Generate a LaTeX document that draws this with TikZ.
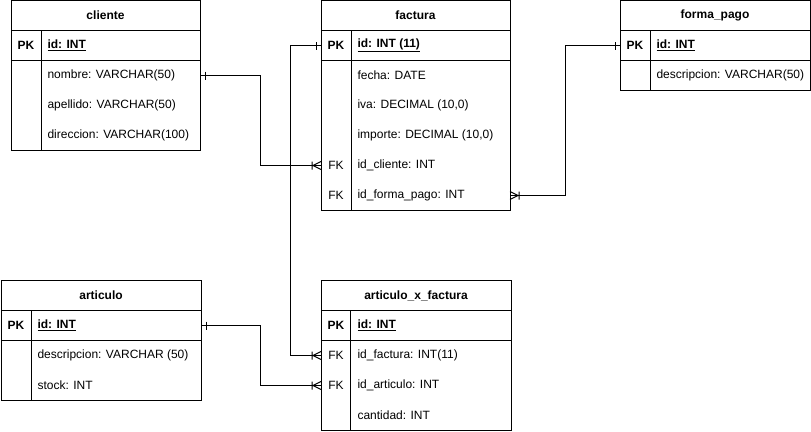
\documentclass[tikz,border=0pt]{standalone}
\usepackage{fontspec}
\setmainfont{Liberation Sans}
\usetikzlibrary{positioning}
\usetikzlibrary{arrows.meta}
% crow's foot ends (one / one-or-many)
\pgfdeclarearrow{
    name = ERone,
    setup code = {
        \pgfarrowssettipend{0pt}
        \pgfarrowssetlineend{0pt}
        \pgfarrowssetbackend{-6pt}
        \pgfarrowsupperhullpoint{-6pt}{4pt}
        \pgfarrowsupperhullpoint{0pt}{4pt}
    },
    drawing code = {
        \pgfpathmoveto{\pgfpoint{-5pt}{-4pt}}
        \pgfpathlineto{\pgfpoint{-5pt}{4pt}}
        \pgfusepathqstroke
    }
}
\pgfdeclarearrow{
    name = ERmany,
    setup code = {
        \pgfarrowssettipend{0pt}
        \pgfarrowssetlineend{0pt}
        \pgfarrowssetbackend{-10pt}
        \pgfarrowsupperhullpoint{-10pt}{4pt}
        \pgfarrowsupperhullpoint{0pt}{4pt}
    },
    drawing code = {
        \pgfpathmoveto{\pgfpoint{-9pt}{-4pt}}
        \pgfpathlineto{\pgfpoint{-9pt}{4pt}}
        \pgfpathmoveto{\pgfpoint{0pt}{4pt}}
        \pgfpathlineto{\pgfpoint{-8pt}{0pt}}
        \pgfpathlineto{\pgfpoint{0pt}{-4pt}}
        \pgfusepathqstroke
    }
}
\tikzset{
    tabhead/.style = {draw, anchor=north west, minimum height=30pt, inner sep=0pt, outer sep=0pt, font=\fontsize{12}{14}\selectfont\bfseries},
    tabrow/.style = {minimum height=30pt, inner sep=0pt, outer sep=0pt},
    keyname/.style = {font=\fontsize{12}{14}\selectfont\bfseries},
    keyfk/.style = {font=\fontsize{12}{14}\selectfont},
    fieldname/.style = {anchor=west, inner sep=0pt, font=\fontsize{12}{14}\selectfont},
    fieldkey/.style = {fieldname, font=\fontsize{12}{14}\selectfont\bfseries},
    relline/.style = {ERone-ERmany, black}, % one to many
}

\begin{document}
\begin{tikzpicture}[
    x=1pt, y=-1pt,
    line width=1pt]
  \useasboundingbox (0,0) rectangle (811,431);
  % cliente
  \node[tabhead, minimum width=189pt] (cli) at (11,0.5) {cliente};
  \node[tabrow, minimum width=189pt, below=0pt of cli] (cli-pk) {};
  \node[tabrow, minimum width=189pt, below=0pt of cli-pk] (cli-1) {};
  \node[tabrow, minimum width=189pt, below=0pt of cli-1] (cli-2) {};
  \node[tabrow, minimum width=189pt, below=0pt of cli-2] (cli-3) {};
  \draw (cli-pk.north west) rectangle (cli-pk.south east);
  \draw (cli-1.north west) rectangle (cli-3.south east);
  \draw ([xshift=30pt]cli-pk.north west) -- ([xshift=30pt]cli-3.south west);
  \node[keyname] at ([xshift=15pt]cli-pk.west) {PK};
  \node[fieldkey] at ([xshift=36pt]cli-pk.west) {\underline{id: INT}};
  \node[fieldname] at ([xshift=36pt]cli-1.west) {nombre: VARCHAR(50)};
  \node[fieldname] at ([xshift=36pt]cli-2.west) {apellido: VARCHAR(50)};
  \node[fieldname] at ([xshift=36pt]cli-3.west) {direccion: VARCHAR(100)};
  % factura
  \node[tabhead, minimum width=189pt] (fac) at (321,0.5) {factura};
  \node[tabrow, minimum width=189pt, below=0pt of fac] (fac-pk) {};
  \node[tabrow, minimum width=189pt, below=0pt of fac-pk] (fac-1) {};
  \node[tabrow, minimum width=189pt, below=0pt of fac-1] (fac-2) {};
  \node[tabrow, minimum width=189pt, below=0pt of fac-2] (fac-3) {};
  \node[tabrow, minimum width=189pt, below=0pt of fac-3] (fac-4) {};
  \node[tabrow, minimum width=189pt, below=0pt of fac-4] (fac-5) {};
  \draw (fac-pk.north west) rectangle (fac-pk.south east);
  \draw (fac-1.north west) rectangle (fac-5.south east);
  \draw ([xshift=30pt]fac-pk.north west) -- ([xshift=30pt]fac-5.south west);
  \node[keyname] at ([xshift=15pt]fac-pk.west) {PK};
  \node[keyfk] at ([xshift=15pt]fac-4.west) {FK};
  \node[keyfk] at ([xshift=15pt]fac-5.west) {FK};
  \node[fieldkey] at ([xshift=36pt]fac-pk.west) {\underline{id: INT (11)}};
  \node[fieldname] at ([xshift=36pt]fac-1.west) {fecha: DATE};
  \node[fieldname] at ([xshift=36pt]fac-2.west) {iva: DECIMAL (10,0)};
  \node[fieldname] at ([xshift=36pt]fac-3.west) {importe: DECIMAL (10,0)};
  \node[fieldname] at ([xshift=36pt]fac-4.west) {id\_cliente: INT};
  \node[fieldname] at ([xshift=36pt]fac-5.west) {id\_forma\_pago: INT};
  % forma_pago
  \node[tabhead, minimum width=190pt] (fp) at (620,0.5) {forma\_pago};
  \node[tabrow, minimum width=190pt, below=0pt of fp] (fp-pk) {};
  \node[tabrow, minimum width=190pt, below=0pt of fp-pk] (fp-1) {};
  \draw (fp-pk.north west) rectangle (fp-pk.south east);
  \draw (fp-1.north west) rectangle (fp-1.south east);
  \draw ([xshift=30pt]fp-pk.north west) -- ([xshift=30pt]fp-1.south west);
  \node[keyname] at ([xshift=15pt]fp-pk.west) {PK};
  \node[fieldkey] at ([xshift=36pt]fp-pk.west) {\underline{id: INT}};
  \node[fieldname] at ([xshift=36pt]fp-1.west) {descripcion: VARCHAR(50)};
  % articulo
  \node[tabhead, minimum width=200pt] (art) at (1,280.5) {articulo};
  \node[tabrow, minimum width=200pt, below=0pt of art] (art-pk) {};
  \node[tabrow, minimum width=200pt, below=0pt of art-pk] (art-1) {};
  \node[tabrow, minimum width=200pt, below=0pt of art-1] (art-2) {};
  \draw (art-pk.north west) rectangle (art-pk.south east);
  \draw (art-1.north west) rectangle (art-2.south east);
  \draw ([xshift=30pt]art-pk.north west) -- ([xshift=30pt]art-2.south west);
  \node[keyname] at ([xshift=15pt]art-pk.west) {PK};
  \node[fieldkey] at ([xshift=36pt]art-pk.west) {\underline{id: INT}};
  \node[fieldname] at ([xshift=36pt]art-1.west) {descripcion: VARCHAR (50)};
  \node[fieldname] at ([xshift=36pt]art-2.west) {stock: INT};
  % articulo_x_factura
  \node[tabhead, minimum width=190pt] (axf) at (321,280.5) {articulo\_x\_factura};
  \node[tabrow, minimum width=190pt, below=0pt of axf] (axf-pk) {};
  \node[tabrow, minimum width=190pt, below=0pt of axf-pk] (axf-1) {};
  \node[tabrow, minimum width=190pt, below=0pt of axf-1] (axf-2) {};
  \node[tabrow, minimum width=190pt, below=0pt of axf-2] (axf-3) {};
  \draw (axf-pk.north west) rectangle (axf-pk.south east);
  \draw (axf-1.north west) rectangle (axf-3.south east);
  \draw ([xshift=29pt]axf-pk.north west) -- ([xshift=29pt]axf-3.south west);
  \node[keyname] at ([xshift=15pt]axf-pk.west) {PK};
  \node[keyfk] at ([xshift=15pt]axf-1.west) {FK};
  \node[keyfk] at ([xshift=15pt]axf-2.west) {FK};
  \node[fieldkey] at ([xshift=36pt]axf-pk.west) {\underline{id: INT}};
  \node[fieldname] at ([xshift=36pt]axf-1.west) {id\_factura: INT(11)};
  \node[fieldname] at ([xshift=36pt]axf-2.west) {id\_articulo: INT};
  \node[fieldname] at ([xshift=36pt]axf-3.west) {cantidad: INT};
  % relations
  \draw[relline] (cli-1.east) -- ++(60,0) |- (fac-4.west);
  \draw[relline] (fac-pk.west) -- ++(-31,0) |- (axf-1.west);
  \draw[relline] (fp-pk.west) -- ++(-55,0) |- (fac-5.east);
  \draw[relline] (art-pk.east) -- ++(59,0) |- (axf-2.west);
\end{tikzpicture}
\end{document}
